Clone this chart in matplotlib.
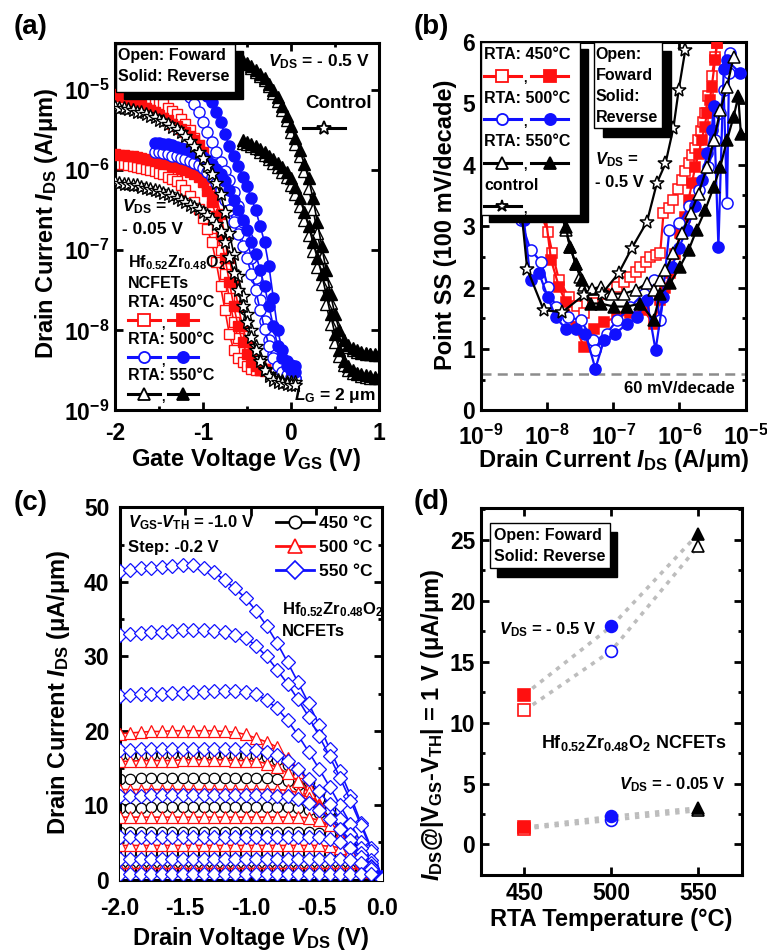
import numpy as np
import matplotlib
matplotlib.use('Agg')
import matplotlib.pyplot as plt
from matplotlib.patches import Rectangle
from matplotlib.lines import Line2D
from matplotlib.ticker import FixedLocator, FuncFormatter, MultipleLocator, LogLocator, NullLocator, NullFormatter

plt.rcParams['font.family'] = ['Liberation Sans', 'DejaVu Sans']
plt.rcParams['font.weight'] = 'bold'
plt.rcParams['axes.unicode_minus'] = False
plt.rcParams['mathtext.fontset'] = 'custom'
plt.rcParams['mathtext.rm'] = 'Liberation Sans:bold'
plt.rcParams['mathtext.it'] = 'Liberation Sans:italic:bold'
plt.rcParams['mathtext.bf'] = 'Liberation Sans:bold'
plt.rcParams['mathtext.default'] = 'it'
plt.rcParams['axes.linewidth'] = 2.2

RED = '#ff1010'
BLUE = '#1010ff'

# ---------------- (a) transfer curves, log10(I_DS) ----------------
VG_RED = [-2.0, -1.95, -1.9, -1.85, -1.8, -1.75, -1.7, -1.65, -1.6, -1.55,
          -1.5, -1.45, -1.4, -1.35, -1.3, -1.25, -1.2, -1.15, -1.1, -1.05,
          -1.0, -0.95, -0.9, -0.85, -0.8, -0.75, -0.7, -0.65, -0.6, -0.55,
          -0.5, -0.45, -0.4, -0.35, -0.3]
VG_STAR = VG_RED + [-0.25, -0.2, -0.15, -0.1, -0.05, 0.0, 0.05]
VG_BLUE = [-1.55, -1.5, -1.45, -1.4, -1.35, -1.3, -1.25, -1.2, -1.15, -1.1,
           -1.05, -1.0, -0.95, -0.9, -0.85, -0.8, -0.75, -0.7, -0.65, -0.6,
           -0.55, -0.5, -0.45, -0.4, -0.35, -0.3, -0.25, -0.2, -0.15, -0.1,
           -0.05, 0.0, 0.05]
VG_TRI = [-0.55, -0.5, -0.45, -0.4, -0.35, -0.3, -0.25, -0.2, -0.15, -0.1,
          -0.05, 0.0, 0.05, 0.1, 0.15, 0.2, 0.25, 0.3, 0.35, 0.4,
          0.45, 0.5, 0.55, 0.6, 0.65, 0.7, 0.75, 0.8, 0.85, 0.9,
          0.95, 1.0]

# VDS = -0.5 V
R450_F_HI = [-4.98, -4.99, -5.00, -5.01, -5.02, -5.04, -5.06, -5.08, -5.10, -5.12,
             -5.15, -5.18, -5.22, -5.26, -5.30, -5.36, -5.42, -5.50, -5.60, -5.76,
             -5.95, -6.19, -6.45, -6.72, -7.00, -7.30, -7.60, -7.90, -8.10, -8.25,
             -8.35, -8.42, -8.45, -8.47, -8.48]
R450_R_HI = [-5.05, -5.07, -5.09, -5.11, -5.14, -5.16, -5.19, -5.22, -5.25, -5.28,
             -5.31, -5.35, -5.38, -5.42, -5.45, -5.49, -5.52, -5.57, -5.62, -5.69,
             -5.78, -5.92, -6.10, -6.32, -6.55, -6.82, -7.10, -7.40, -7.70, -7.95,
             -8.15, -8.30, -8.40, -8.45, -8.48]
B500_F_HI = [-4.78, -4.80, -4.82, -4.85, -4.88, -4.92, -4.97, -5.02, -5.09, -5.18,
             -5.28, -5.40, -5.52, -5.65, -5.77, -5.90, -6.01, -6.12, -6.27, -6.45,
             -6.65, -6.85, -7.10, -7.35, -7.62, -7.88, -8.12, -8.30, -8.42, -8.50,
             -8.55, -8.57, -8.60]
B500_R_HI = [-4.65, -4.66, -4.68, -4.70, -4.72, -4.74, -4.77, -4.80, -4.85, -4.90,
             -4.95, -5.00, -5.07, -5.15, -5.27, -5.40, -5.55, -5.70, -5.83, -5.95,
             -6.08, -6.20, -6.35, -6.50, -6.70, -6.90, -7.20, -7.60, -8.00, -8.25,
             -8.38, -8.43, -8.45]
K550_F_HI = [-4.66, -4.68, -4.72, -4.77, -4.82, -4.88, -4.95, -5.04, -5.14, -5.25,
             -5.38, -5.52, -5.67, -5.83, -6.01, -6.22, -6.48, -6.78, -7.08, -7.38,
             -7.66, -7.90, -8.06, -8.16, -8.21, -8.24, -8.27, -8.28, -8.29, -8.30,
             -8.31, -8.31]
K550_R_HI = [-4.64, -4.66, -4.70, -4.75, -4.80, -4.85, -4.92, -5.00, -5.09, -5.20,
             -5.32, -5.45, -5.60, -5.75, -5.92, -6.10, -6.35, -6.65, -6.95, -7.25,
             -7.55, -7.80, -8.00, -8.12, -8.18, -8.22, -8.25, -8.27, -8.28, -8.29,
             -8.30, -8.30]
CTRL_HI = [-5.21, -5.22, -5.23, -5.24, -5.25, -5.27, -5.28, -5.30, -5.32, -5.34,
           -5.37, -5.39, -5.42, -5.46, -5.49, -5.53, -5.58, -5.64, -5.70, -5.77,
           -5.85, -5.95, -6.05, -6.16, -6.30, -6.52, -6.78, -7.05, -7.32, -7.57,
           -7.80, -8.00, -8.20, -8.35, -8.48, -8.55, -8.60, -8.62, -8.63, -8.64,
           -8.65, -8.65]
# VDS = -0.05 V
R450_F_LO = [-5.92, -5.93, -5.93, -5.94, -5.95, -5.96, -5.97, -5.98, -6.00, -6.01,
             -6.03, -6.05, -6.08, -6.11, -6.14, -6.19, -6.25, -6.32, -6.40, -6.49,
             -6.60, -6.74, -6.90, -7.15, -7.45, -7.75, -8.05, -8.25, -8.35, -8.40,
             -8.45, -8.48, -8.50, -8.50, -8.51]
R450_R_LO = [-5.80, -5.81, -5.81, -5.82, -5.83, -5.84, -5.85, -5.86, -5.87, -5.88,
             -5.90, -5.91, -5.93, -5.95, -5.96, -5.98, -6.00, -6.02, -6.05, -6.09,
             -6.15, -6.26, -6.40, -6.58, -6.80, -7.10, -7.40, -7.70, -7.95, -8.15,
             -8.30, -8.40, -8.45, -8.49, -8.50]
B500_F_LO = [-5.78, -5.78, -5.79, -5.80, -5.82, -5.83, -5.85, -5.86, -5.89, -5.91,
             -5.94, -5.97, -6.02, -6.08, -6.16, -6.25, -6.37, -6.50, -6.65, -6.80,
             -6.95, -7.10, -7.30, -7.50, -7.75, -7.98, -8.20, -8.35, -8.45, -8.52,
             -8.56, -8.58, -8.60]
B500_R_LO = [-5.66, -5.66, -5.67, -5.68, -5.69, -5.71, -5.72, -5.74, -5.76, -5.79,
             -5.81, -5.84, -5.88, -5.92, -5.98, -6.05, -6.14, -6.25, -6.37, -6.50,
             -6.62, -6.75, -6.90, -7.05, -7.25, -7.45, -7.70, -7.95, -8.20, -8.35,
             -8.45, -8.50, -8.52]
K550_F_LO = [-5.66, -5.68, -5.70, -5.73, -5.77, -5.81, -5.86, -5.91, -5.96, -6.02,
             -6.09, -6.18, -6.30, -6.45, -6.62, -6.81, -7.01, -7.21, -7.42, -7.67,
             -7.92, -8.15, -8.32, -8.43, -8.49, -8.53, -8.55, -8.57, -8.58, -8.59,
             -8.60, -8.60]
K550_R_LO = [-5.63, -5.65, -5.67, -5.70, -5.74, -5.78, -5.82, -5.86, -5.91, -5.96,
             -6.02, -6.10, -6.21, -6.35, -6.52, -6.70, -6.90, -7.10, -7.30, -7.55,
             -7.80, -8.05, -8.25, -8.38, -8.45, -8.50, -8.53, -8.55, -8.56, -8.57,
             -8.58, -8.58]
CTRL_LO = [-6.15, -6.16, -6.17, -6.17, -6.18, -6.19, -6.21, -6.22, -6.23, -6.25,
           -6.26, -6.28, -6.30, -6.32, -6.35, -6.37, -6.40, -6.43, -6.46, -6.49,
           -6.52, -6.56, -6.61, -6.67, -6.76, -6.90, -7.08, -7.28, -7.50, -7.70,
           -7.90, -8.08, -8.24, -8.38, -8.50, -8.57, -8.62, -8.64, -8.66, -8.67,
           -8.68, -8.68]

# ---------------- (b) point SS vs log10(I_DS) ----------------
SS450_F_I = [-8.20, -7.99, -7.92, -7.82, -7.67, -7.55, -7.44, -7.30, -7.14, -6.94,
             -6.84, -6.74, -6.66, -6.59, -6.51, -6.44, -6.36, -6.29, -6.24, -6.16,
             -6.09, -6.02, -5.96, -5.91, -5.86, -5.81, -5.76, -5.72, -5.68, -5.64,
             -5.61, -5.56, -5.51, -5.46, -5.43]
SS450_F = [3.50, 2.91, 2.56, 2.12, 1.85, 1.70, 1.58, 1.75, 1.90, 2.01,
           2.09, 2.17, 2.25, 2.34, 2.42, 2.50, 2.53, 2.56, 3.21, 3.30,
           3.43, 3.60, 3.75, 3.90, 4.03, 4.15, 4.27, 4.40, 4.54, 4.70,
           4.84, 5.11, 5.44, 5.76, 5.98]
SS450_R_I = [-8.05, -7.94, -7.82, -7.72, -7.57, -7.44, -7.29, -7.14, -6.94, -6.74,
             -6.54, -6.39, -6.29, -6.21, -6.14, -6.06, -5.99, -5.92, -5.86, -5.81,
             -5.76, -5.71, -5.66, -5.62, -5.58, -5.54, -5.51, -5.46, -5.43]
SS450_R = [3.40, 2.45, 2.01, 1.77, 1.36, 1.03, 1.33, 1.44, 1.52, 1.58,
           1.63, 1.41, 1.79, 2.00, 2.23, 2.55, 2.88, 3.15, 3.43, 3.70,
           3.97, 4.18, 4.40, 4.62, 4.84, 5.05, 5.27, 5.71, 5.98]
SS500_F_I = [-8.40, -8.25, -8.09, -7.99, -7.87, -7.69, -7.49, -7.31, -7.27, -7.10,
             -6.94, -6.74, -6.54, -6.39, -6.29, -6.15, -6.00, -5.85, -5.70, -5.56,
             -5.46, -5.38, -5.33, -5.28, -5.25, -5.23]
SS500_F = [3.10, 2.61, 2.42, 2.01, 1.69, 1.52, 1.47, 1.14, 0.98, 1.25,
           1.47, 1.69, 1.90, 2.12, 1.47, 2.94, 3.05, 3.32, 3.59, 3.97,
           4.40, 4.84, 5.22, 3.37, 5.50, 5.82]
SS500_R_I = [-8.35, -8.25, -8.12, -7.99, -7.87, -7.72, -7.57, -7.42, -7.27, -7.14,
             -6.97, -6.79, -6.64, -6.49, -6.36, -6.24, -6.11, -6.01, -5.89, -5.76,
             -5.66, -5.58, -5.51, -5.48, -5.41, -5.33, -5.28, -5.08]
SS500_R = [3.10, 2.12, 2.23, 1.85, 1.52, 1.33, 1.33, 1.25, 0.68, 1.14,
           1.25, 1.41, 1.52, 1.79, 0.98, 1.85, 2.34, 2.64, 2.94, 3.32,
           3.75, 4.19, 4.57, 4.95, 2.66, 5.55, 5.70, 5.49]
SS550_F_I = [-7.80, -7.72, -7.65, -7.57, -7.50, -7.44, -7.32, -7.19, -7.02, -6.84,
             -6.66, -6.49, -6.39, -6.30, -6.21, -6.09, -5.96, -5.83, -5.71, -5.58,
             -5.48, -5.38, -5.28, -5.18]
SS550_F = [3.30, 2.94, 2.66, 2.39, 2.17, 2.04, 1.98, 2.01, 1.90, 1.90,
           1.96, 2.07, 1.96, 2.12, 2.28, 2.56, 2.88, 3.21, 3.53, 3.97,
           4.40, 4.89, 5.27, 5.76]
SS550_R_I = [-7.80, -7.72, -7.65, -7.57, -7.47, -7.34, -7.19, -6.99, -6.79, -6.59,
             -6.39, -6.29, -6.14, -5.99, -5.86, -5.74, -5.61, -5.48, -5.38, -5.28,
             -5.18, -5.11, -5.07]
SS550_R = [3.30, 2.99, 2.66, 2.39, 2.12, 1.74, 1.74, 1.69, 1.69, 1.74,
           1.47, 1.90, 2.07, 2.34, 2.61, 2.94, 3.26, 3.64, 3.97, 4.40,
           4.78, 5.11, 4.50]
SSCTRL_I = [-8.42, -8.30, -8.05, -7.77, -7.44, -7.17, -6.92, -6.72, -6.49, -6.34,
            -6.21, -6.09, -6.01, -5.91]
SSCTRL = [3.60, 2.30, 1.63, 1.60, 1.88, 1.90, 2.23, 2.64, 3.07, 3.70,
          4.02, 4.60, 5.22, 5.87]

# ---------------- (c) output curves, I_DS (uA/um) ----------------
VDS_C = [-2.0, -1.92, -1.84, -1.76, -1.68, -1.6, -1.52, -1.44, -1.36, -1.28,
         -1.2, -1.12, -1.04, -0.96, -0.88, -0.8, -0.72, -0.64, -0.56, -0.48,
         -0.4, -0.32, -0.24, -0.16, -0.08, 0.0]
ID_450 = [
    [16.8, 16.8, 16.8, 16.8, 16.9, 16.9, 16.9, 16.9, 16.9, 16.9, 16.9, 16.8, 16.8,
     16.7, 16.5, 16.1, 15.4, 14.4, 13.1, 11.6, 9.8, 7.9, 5.9, 3.9, 2.0, 0.2],
    [13.5, 13.5, 13.6, 13.6, 13.6, 13.6, 13.6, 13.6, 13.6, 13.6, 13.6, 13.6, 13.6,
     13.6, 13.6, 13.5, 13.2, 12.7, 11.9, 10.8, 9.3, 7.6, 5.7, 3.8, 1.9, 0.2],
    [9.6, 9.6, 9.6, 9.7, 9.7, 9.7, 9.7, 9.7, 9.7, 9.7, 9.7, 9.7, 9.7,
     9.7, 9.7, 9.7, 9.7, 9.6, 9.4, 9.0, 8.2, 7.0, 5.5, 3.7, 1.9, 0.2],
    [6.4, 6.4, 6.4, 6.4, 6.4, 6.4, 6.4, 6.4, 6.4, 6.4, 6.4, 6.4, 6.4,
     6.4, 6.4, 6.4, 6.4, 6.4, 6.4, 6.3, 6.1, 5.6, 4.7, 3.4, 1.8, 0.2],
    [3.6, 3.6, 3.6, 3.6, 3.6, 3.6, 3.6, 3.6, 3.6, 3.6, 3.6, 3.6, 3.6,
     3.6, 3.6, 3.6, 3.6, 3.6, 3.6, 3.6, 3.6, 3.5, 3.3, 2.8, 1.6, 0.2],
    [1.5, 1.5, 1.5, 1.5, 1.5, 1.5, 1.5, 1.5, 1.5, 1.5, 1.5, 1.5, 1.5,
     1.5, 1.5, 1.5, 1.5, 1.5, 1.5, 1.5, 1.5, 1.5, 1.5, 1.4, 1.0, 0.1],
]
ID_500 = [
    [19.6, 19.7, 19.8, 19.9, 19.9, 20.0, 20.0, 20.0, 20.0, 20.0, 19.9, 19.8, 19.5,
     19.0, 18.5, 17.8, 16.3, 14.5, 12.4, 10.1, 8.0, 6.0, 4.2, 2.7, 1.3, 0.2],
    [15.9, 15.9, 16.0, 16.0, 16.0, 16.0, 16.1, 16.1, 16.1, 16.1, 16.1, 16.0, 16.0,
     15.9, 15.6, 15.1, 14.3, 13.2, 11.8, 10.0, 8.0, 6.0, 4.2, 2.7, 1.3, 0.2],
    [12.1, 12.1, 12.1, 12.1, 12.1, 12.1, 12.1, 12.1, 12.1, 12.1, 12.1, 12.1, 12.1,
     12.1, 12.1, 12.1, 12.0, 11.7, 11.0, 9.8, 8.0, 6.0, 4.2, 2.6, 1.3, 0.2],
    [8.4, 8.4, 8.4, 8.4, 8.4, 8.4, 8.4, 8.4, 8.4, 8.4, 8.4, 8.4, 8.4,
     8.4, 8.4, 8.4, 8.4, 8.4, 8.3, 8.0, 7.3, 5.9, 4.2, 2.6, 1.3, 0.2],
    [4.6, 4.6, 4.6, 4.6, 4.6, 4.6, 4.6, 4.6, 4.6, 4.6, 4.6, 4.6, 4.6,
     4.6, 4.6, 4.6, 4.6, 4.6, 4.6, 4.6, 4.5, 4.3, 3.7, 2.5, 1.3, 0.2],
    [1.5, 1.5, 1.5, 1.5, 1.5, 1.5, 1.5, 1.5, 1.5, 1.5, 1.5, 1.5, 1.5,
     1.5, 1.5, 1.5, 1.5, 1.5, 1.5, 1.5, 1.5, 1.5, 1.5, 1.4, 1.0, 0.1],
]
ID_550 = [
    [41.4, 41.6, 41.8, 41.9, 42.0, 42.1, 42.2, 42.2, 41.9, 41.3, 40.2, 39.1, 37.8,
     36.1, 34.1, 31.8, 29.2, 26.5, 23.7, 20.8, 17.6, 14.6, 11.3, 7.6, 4.2, 0.4],
    [32.9, 33.0, 33.1, 33.2, 33.3, 33.4, 33.5, 33.5, 33.5, 33.4, 33.2, 32.9, 32.5,
     31.4, 30.0, 28.2, 26.3, 24.2, 21.9, 19.3, 16.6, 13.7, 10.6, 7.3, 3.9, 0.4],
    [24.7, 24.8, 24.9, 25.0, 25.0, 25.1, 25.1, 25.2, 25.2, 25.3, 25.3, 25.3, 25.2,
     24.9, 24.1, 23.0, 21.4, 19.4, 17.2, 14.9, 12.5, 10.0, 7.5, 5.0, 2.6, 0.3],
    [17.4, 17.4, 17.5, 17.5, 17.5, 17.5, 17.6, 17.6, 17.6, 17.6, 17.6, 17.6, 17.5,
     17.4, 17.2, 16.8, 16.0, 14.9, 13.5, 11.9, 10.1, 8.2, 6.2, 4.2, 2.2, 0.2],
    [11.3, 11.3, 11.3, 11.4, 11.4, 11.4, 11.4, 11.4, 11.4, 11.4, 11.4, 11.4, 11.4,
     11.4, 11.4, 11.3, 11.2, 10.9, 10.3, 9.4, 8.2, 6.8, 5.3, 3.6, 1.9, 0.2],
    [5.8, 5.8, 5.8, 5.8, 5.8, 5.8, 5.8, 5.8, 5.8, 5.8, 5.8, 5.8, 5.8,
     5.8, 5.8, 5.8, 5.8, 5.8, 5.8, 5.7, 5.5, 5.0, 4.2, 3.1, 1.7, 0.2],
    [2.8, 2.8, 2.8, 2.8, 2.8, 2.8, 2.8, 2.8, 2.8, 2.8, 2.8, 2.8, 2.8,
     2.8, 2.8, 2.8, 2.8, 2.8, 2.8, 2.8, 2.8, 2.8, 2.7, 2.3, 1.4, 0.1],
    [0.8, 0.8, 0.8, 0.8, 0.8, 0.8, 0.8, 0.8, 0.8, 0.8, 0.8, 0.8, 0.8,
     0.8, 0.8, 0.8, 0.8, 0.8, 0.8, 0.8, 0.8, 0.8, 0.8, 0.8, 0.7, 0.1],
]

# ---------------- (d) I_DS at |VGS-VTH| = 1 V ----------------
TEMPS = [450, 500, 550]
ID_HI_REV = [12.3, 17.9, 25.5]
ID_HI_FWD = [11.0, 15.9, 24.5]
ID_LO_REV = [1.4, 2.3, 3.0]
ID_LO_FWD = [1.3, 2.0, 2.8]
PT_COLORS = [RED, BLUE, 'black']
PT_MARKERS = ['s', 'o', '^']

TICK_FS = 16.5
LABEL_FS = 17
NOTE_FS = 11.5


def style_axes(ax, xpad, ypad):
    ax.tick_params(which='both', direction='in', top=True, right=True,
                   labelsize=TICK_FS, width=2)
    ax.tick_params(which='major', length=5.5)
    ax.tick_params(which='minor', length=3)
    ax.tick_params(axis='x', which='both', pad=xpad)
    ax.tick_params(axis='y', which='both', pad=ypad)
    for lab in ax.get_xticklabels() + ax.get_yticklabels():
        lab.set_fontweight('bold')


def shadow_box(ax, x0, y0, x1, y1, dx, dy):
    ax.add_patch(Rectangle((x0 + dx, y0 - dy), x1 - x0, y1 - y0, transform=ax.transAxes,
                           facecolor='black', edgecolor='black', zorder=30, clip_on=False))
    ax.add_patch(Rectangle((x0, y0), x1 - x0, y1 - y0, transform=ax.transAxes,
                           facecolor='white', edgecolor='black', lw=1.0, zorder=31, clip_on=False))


def glyph(ax, x0, x1, y, color, marker, filled, ms, z=35):
    ax.plot([x0, x1], [y, y], transform=ax.transAxes, color=color, lw=2.2,
            clip_on=False, zorder=z)
    ax.plot([(x0 + x1) / 2], [y], transform=ax.transAxes, marker=marker, ms=ms,
            mfc=color if filled else 'white', mec=color, mew=1.3, ls='none',
            clip_on=False, zorder=z + 1)


def note(ax, x, y, s, fs=NOTE_FS, ha='left', va='center', z=40):
    ax.text(x, y, s, transform=ax.transAxes, fontsize=fs, fontweight='bold',
            ha=ha, va=va, zorder=z)


log_fmt = FuncFormatter(lambda v, p: r'$\mathrm{10^{%d}}$' % int(round(np.log10(v))))

fig = plt.figure(figsize=(7.67, 9.5), dpi=100)
ax_a = fig.add_axes([0.150, 0.568, 0.344, 0.387])
ax_b = fig.add_axes([0.627, 0.568, 0.345, 0.388])
ax_c = fig.add_axes([0.156, 0.074, 0.342, 0.392])
ax_d = fig.add_axes([0.627, 0.079, 0.340, 0.386])

# ======== (a) ========
ax = ax_a


def curve_a(vg, logi, color, marker, filled, ms, z):
    ax.plot(vg, np.power(10.0, logi), color=color, lw=1.2, marker=marker, ms=ms,
            mfc=color if filled else 'white', mec=color, mew=1.0, zorder=z)


curve_a(VG_RED, R450_F_HI, RED, 's', False, 7, 2)
curve_a(VG_RED, R450_F_LO, RED, 's', False, 7, 2)
curve_a(VG_RED, R450_R_HI, RED, 's', True, 7, 3)
curve_a(VG_RED, R450_R_LO, RED, 's', True, 7, 3)
curve_a(VG_BLUE, B500_F_HI, BLUE, 'o', False, 8, 4)
curve_a(VG_BLUE, B500_F_LO, BLUE, 'o', False, 8, 4)
curve_a(VG_BLUE, B500_R_HI, BLUE, 'o', True, 8, 5)
curve_a(VG_BLUE, B500_R_LO, BLUE, 'o', True, 8, 5)
curve_a(VG_TRI, K550_F_HI, 'black', '^', False, 8.5, 6)
curve_a(VG_TRI, K550_F_LO, 'black', '^', False, 8.5, 6)
curve_a(VG_TRI, K550_R_HI, 'black', '^', True, 8.5, 7)
curve_a(VG_TRI, K550_R_LO, 'black', '^', True, 8.5, 7)
curve_a(VG_STAR, CTRL_HI, 'black', '*', False, 10, 8)
curve_a(VG_STAR, CTRL_LO, 'black', '*', False, 10, 8)

ax.set_yscale('log')
ax.set_xlim(-2, 1)
ax.set_ylim(1e-9, 10 ** -4.41)
ax.xaxis.set_major_locator(FixedLocator([-2, -1, 0, 1]))
ax.xaxis.set_minor_locator(MultipleLocator(0.5))
ax.yaxis.set_major_locator(FixedLocator([1e-9, 1e-8, 1e-7, 1e-6, 1e-5]))
ax.yaxis.set_minor_locator(NullLocator())
ax.yaxis.set_major_formatter(log_fmt)
ax.yaxis.set_minor_formatter(NullFormatter())
style_axes(ax, 8.5, 4)
ax.set_xlabel(r'Gate Voltage $V_{\rm GS}$ (V)', fontsize=LABEL_FS, fontweight='bold')
ax.set_ylabel(r'Drain Current $I_{\rm DS}$ (A/μm)', fontsize=LABEL_FS, fontweight='bold')
ax.xaxis.set_label_coords(0.497, -0.097)
ax.yaxis.set_label_coords(-0.208, 0.51)

shadow_box(ax, 0.004, 0.866, 0.455, 0.997, 0.03, 0.02)
note(ax, 0.013, 0.965, 'Open: Foward', z=40)
note(ax, 0.013, 0.907, 'Solid: Reverse', z=40)
note(ax, 0.965, 0.948, r'$V_{\rm DS}$ = - 0.5 V', fs=12.5, ha='right')
note(ax, 0.72, 0.835, 'Control', fs=13.5)
glyph(ax, 0.712, 0.871, 0.768, 'black', '*', False, 10)
note(ax, 0.027, 0.553, r'$V_{\rm DS}$ =', fs=12.5)
note(ax, 0.027, 0.493, '- 0.05 V', fs=12.5)
note(ax, 0.05, 0.402, r'Hf$_{\rm 0.52}$Zr$_{\rm 0.48}$O$_{\rm 2}$', fs=11.5)
note(ax, 0.05, 0.346, 'NCFETs', fs=11.5)
for row, (lab, col, mk) in enumerate([('RTA: 450°C', RED, 's'),
                                      ('RTA: 500°C', BLUE, 'o'),
                                      ('RTA: 550°C', 'black', '^')]):
    ytxt = 0.294 - row * 0.1
    yg = ytxt - 0.049
    note(ax, 0.05, ytxt, lab, fs=11.5)
    glyph(ax, 0.05, 0.17, yg, col, mk, False, 8)
    note(ax, 0.175, yg - 0.012, ',', fs=9)
    glyph(ax, 0.2, 0.315, yg, col, mk, True, 8)
note(ax, 0.99, 0.04, r'$L_{\rm G}$ = 2 μm', fs=12.5, ha='right')

# ======== (b) ========
ax = ax_b


def curve_b(logi, ss, color, marker, filled, ms, z):
    ax.plot(np.power(10.0, logi), ss, color=color, lw=1.6, marker=marker, ms=ms,
            mfc=color if filled else 'white', mec=color, mew=1.1, zorder=z)


curve_b(SS450_F_I, SS450_F, RED, 's', False, 7.5, 2)
curve_b(SS450_R_I, SS450_R, RED, 's', True, 7.5, 3)
curve_b(SS500_F_I, SS500_F, BLUE, 'o', False, 8, 4)
curve_b(SS500_R_I, SS500_R, BLUE, 'o', True, 8, 5)
curve_b(SS550_F_I, SS550_F, 'black', '^', False, 8, 6)
curve_b(SS550_R_I, SS550_R, 'black', '^', True, 8, 7)
curve_b(SSCTRL_I, SSCTRL, 'black', '*', False, 10, 8)
ax.axhline(0.6, color='#8c8c8c', lw=1.8, ls=(0, (4, 2.5)), zorder=1)

ax.set_xscale('log')
ax.set_xlim(1e-9, 1e-5)
ax.set_ylim(0, 6)
ax.xaxis.set_major_locator(FixedLocator([1e-9, 1e-8, 1e-7, 1e-6, 1e-5]))
ax.xaxis.set_major_formatter(log_fmt)
ax.xaxis.set_minor_locator(LogLocator(base=10, subs=(2, 3, 4, 5, 6, 7, 8, 9)))
ax.xaxis.set_minor_formatter(NullFormatter())
ax.yaxis.set_major_locator(MultipleLocator(1))
ax.yaxis.set_minor_locator(MultipleLocator(0.5))
style_axes(ax, 10, 4)
ax.set_xlabel(r'Drain Current $I_{\rm DS}$ (A/μm)', fontsize=LABEL_FS, fontweight='bold')
ax.set_ylabel('Point SS (100 mV/decade)', fontsize=LABEL_FS, fontweight='bold')
ax.xaxis.set_label_coords(0.50, -0.10)
ax.yaxis.set_label_coords(-0.092, 0.503)

shadow_box(ax, 0.0, 0.53, 0.374, 1.0, 0.03, 0.019)
rows_b = [('RTA: 450°C', RED, 's', True), ('RTA: 500°C', BLUE, 'o', True),
          ('RTA: 550°C', 'black', '^', True), ('control', 'black', '*', False)]
for row, (lab, col, mk, two) in enumerate(rows_b):
    ytxt = 0.965 - row * 0.118
    yg = ytxt - 0.057
    note(ax, 0.012, ytxt, lab, fs=NOTE_FS)
    glyph(ax, 0.012, 0.15, yg, col, mk, False, 9 if mk == '*' else 8)
    note(ax, 0.16, yg - 0.01, ',', fs=9)
    if two:
        glyph(ax, 0.19, 0.33, yg, col, mk, True, 8)
shadow_box(ax, 0.426, 0.766, 0.683, 1.0, 0.034, 0.024)
for k, s in enumerate(['Open:', 'Foward', 'Solid:', 'Reverse']):
    note(ax, 0.434, 0.965 - k * 0.057, s, fs=NOTE_FS)
note(ax, 0.43, 0.68, r'$V_{\rm DS}$ =', fs=12)
note(ax, 0.43, 0.617, '- 0.5 V', fs=12)
note(ax, 0.958, 0.06, '60 mV/decade', fs=12, ha='right')

# ======== (c) ========
ax = ax_c
for ys in ID_450:
    ax.plot(VDS_C, ys, color='black', lw=1.0, marker='o', ms=7.5, mfc='white',
            mec='black', mew=0.9, zorder=2)
for ys in ID_500:
    ax.plot(VDS_C, ys, color=RED, lw=1.2, marker='^', ms=8, mfc='white',
            mec=RED, mew=0.9, zorder=3)
for ys in ID_550:
    ax.plot(VDS_C, ys, color=BLUE, lw=1.2, marker='D', ms=7.5, mfc='white',
            mec=BLUE, mew=0.9, zorder=4)
ax.set_xlim(-2.0, 0.0)
ax.set_ylim(0, 50)
ax.xaxis.set_major_locator(MultipleLocator(0.5))
ax.xaxis.set_major_formatter(FuncFormatter(lambda v, p: '%.1f' % v))
ax.yaxis.set_major_locator(MultipleLocator(10))
ax.yaxis.set_minor_locator(MultipleLocator(5))
style_axes(ax, 12.5, 7.5)
ax.set_xlabel(r'Drain Voltage $V_{\rm DS}$ (V)', fontsize=LABEL_FS, fontweight='bold')
ax.set_ylabel(r'Drain Current $I_{\rm DS}$ (μA/μm)', fontsize=LABEL_FS, fontweight='bold')
ax.xaxis.set_label_coords(0.50, -0.121)
ax.yaxis.set_label_coords(-0.183, 0.503)
handles = [Line2D([], [], color='black', lw=2, marker='o', ms=9, mfc='white', mec='black', mew=1.2),
           Line2D([], [], color=RED, lw=2, marker='^', ms=10, mfc='white', mec=RED, mew=1.2),
           Line2D([], [], color=BLUE, lw=2, marker='D', ms=9, mfc='white', mec=BLUE, mew=1.2)]
leg = ax.legend(handles, ['450 °C', '500 °C', '550 °C'], loc='upper right',
                frameon=False, handlelength=2.2, handletextpad=0.3,
                labelspacing=0.5, borderaxespad=0.12, prop={'weight': 'bold', 'size': 12.5})
note(ax, 0.03, 0.958, r'$V_{\rm GS}$-$V_{\rm TH}$ = -1.0 V', fs=12)
note(ax, 0.03, 0.892, 'Step: -0.2 V', fs=12)
note(ax, 0.62, 0.726, r'Hf$_{\rm 0.52}$Zr$_{\rm 0.48}$O$_{\rm 2}$', fs=12)
note(ax, 0.62, 0.667, 'NCFETs', fs=12)

# ======== (d) ========
ax = ax_d
for series in (ID_HI_REV, ID_HI_FWD, ID_LO_REV, ID_LO_FWD):
    ax.plot(TEMPS, series, color='#bdbdbd', lw=2.6, ls=(0, (1.2, 1.6)), zorder=1)
for t, yr, yf, yrl, yfl, col, mk in zip(TEMPS, ID_HI_REV, ID_HI_FWD, ID_LO_REV, ID_LO_FWD,
                                        PT_COLORS, PT_MARKERS):
    ax.plot([t, t], [yf, yfl], ls='none', marker=mk, ms=8.5, mfc='white', mec=col, mew=1.2, zorder=3)
    ax.plot([t, t], [yr, yrl], ls='none', marker=mk, ms=8.5, mfc=col, mec=col, mew=1.2, zorder=4)
ax.set_xlim(425, 575)
ax.set_ylim(-2.5, 27.6)
ax.xaxis.set_major_locator(FixedLocator([450, 500, 550]))
ax.yaxis.set_major_locator(MultipleLocator(5))
ax.yaxis.set_minor_locator(MultipleLocator(2.5))
style_axes(ax, 5, 4)
ax.set_xlabel('RTA Temperature (°C)', fontsize=LABEL_FS, fontweight='bold')
ax.set_ylabel(r'$I_{\rm DS}$@|V$_{\rm GS}$-V$_{\rm TH}$| = 1 V (μA/μm)',
              fontsize=LABEL_FS, fontweight='bold')
ax.xaxis.set_label_coords(0.50, -0.09)
ax.yaxis.set_label_coords(-0.134, 0.41)
shadow_box(ax, 0.034, 0.837, 0.494, 0.959, 0.027, 0.025)
note(ax, 0.05, 0.926, 'Open: Foward', fs=NOTE_FS)
note(ax, 0.05, 0.869, 'Solid: Reverse', fs=NOTE_FS)
note(ax, 0.07, 0.668, r'$V_{\rm DS}$ = - 0.5 V', fs=12)
note(ax, 0.94, 0.36, r'Hf$_{\rm 0.52}$Zr$_{\rm 0.48}$O$_{\rm 2}$ NCFETs', fs=13, ha='right')
note(ax, 0.94, 0.245, r'$V_{\rm DS}$ = - 0.05 V', fs=12, ha='right')

for lab, x, y in [('(a)', 31, 27), ('(b)', 431, 27), ('(c)', 31, 503), ('(d)', 431, 502)]:
    fig.text(x / 767, 1 - y / 950, lab, fontsize=20, fontweight='bold', ha='center', va='center')

fig.savefig('out.png', dpi=100)
